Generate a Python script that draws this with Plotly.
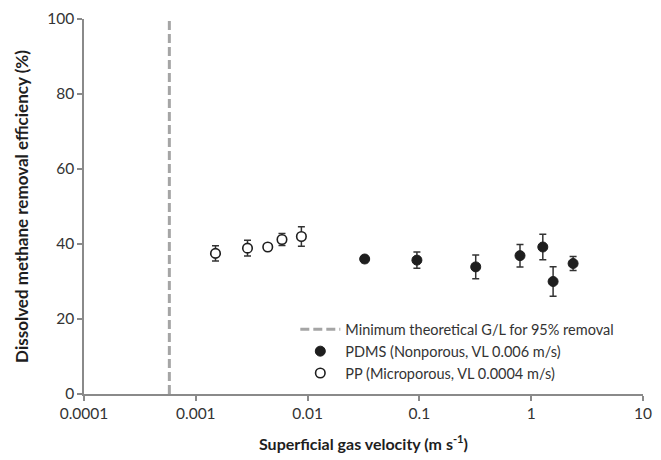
import plotly.graph_objects as go

# Minimum theoretical gas velocity for 95% removal (vertical reference line)
min_gl_velocity = 0.00058

# PDMS (nonporous) membrane
pdms_velocity = [0.0324, 0.095, 0.319, 0.794, 1.27, 1.57, 2.37]
pdms_removal = [36.0, 35.7, 33.9, 36.9, 39.2, 30.0, 34.8]
pdms_error = [0.9, 2.15, 3.15, 3.0, 3.4, 3.95, 1.85]

# PP (microporous) membrane
pp_velocity = [0.0015, 0.0029, 0.0044, 0.0059, 0.0088]
pp_removal = [37.5, 38.9, 39.2, 41.2, 42.0]
pp_error = [2.05, 2.1, 0.0, 1.6, 2.6]

x_tickvals = [0.0001, 0.001, 0.01, 0.1, 1, 10]
x_ticktext = ["0.0001", "0.001", "0.01", "0.1", "1", "10"]
y_tickvals = [0, 20, 40, 60, 80, 100]

FONT = "Lato"
TEXT = "#333333"
AXIS = "#8a8a8a"

fig = go.Figure()

fig.add_trace(go.Scatter(
    x=[min_gl_velocity, min_gl_velocity], y=[0, 100],
    mode="lines",
    line=dict(color="#a5a5a5", width=3, dash="9px,4px"),
    name="Minimum theoretical G/L for 95% removal",
))

fig.add_trace(go.Scatter(
    x=pdms_velocity, y=pdms_removal,
    mode="markers",
    marker=dict(symbol="circle", size=10, color="#1e1e1e",
                line=dict(color="#1e1e1e", width=1)),
    error_y=dict(type="data", array=pdms_error, visible=True,
                 color="#333333", thickness=1.5, width=3.5),
    name="PDMS (Nonporous, VL 0.006 m/s)",
))

fig.add_trace(go.Scatter(
    x=pp_velocity, y=pp_removal,
    mode="markers",
    marker=dict(symbol="circle", size=9.5, color="white",
                line=dict(color="#1e1e1e", width=1.6)),
    error_y=dict(type="data", array=pp_error, visible=True,
                 color="#333333", thickness=1.5, width=3.5),
    name="PP (Microporous, VL 0.0004 m/s)",
))

fig.update_layout(
    width=661, height=460,
    margin=dict(l=84, r=9, t=15, b=66),
    paper_bgcolor="white", plot_bgcolor="white",
    font=dict(family=FONT, size=15, color=TEXT),
    showlegend=True,
    legend=dict(
        x=0.378, y=0.215, xanchor="left", yanchor="top",
        bgcolor="rgba(0,0,0,0)",
        font=dict(family=FONT, size=14.5, color=TEXT),
        itemwidth=40, tracegroupgap=0,
    ),
)

fig.update_xaxes(
    type="log", range=[-4, 1],
    tickvals=x_tickvals, ticktext=x_ticktext,
    showgrid=False, zeroline=False,
    showline=True, linecolor=AXIS, linewidth=1.5,
    ticks="outside", ticklen=5, tickcolor=AXIS, tickwidth=1.5,
    tickfont=dict(family=FONT, size=15.5, color=TEXT),
    title=dict(text="<b>Superficial gas velocity (m s<sup>-1</sup>)</b>",
               font=dict(family=FONT, size=16, color="#1e1e1e"), standoff=17),
)

fig.update_yaxes(
    range=[0, 100],
    tickvals=y_tickvals,
    showgrid=False, zeroline=False,
    showline=True, linecolor=AXIS, linewidth=1.5,
    ticks="outside", ticklen=5, tickcolor=AXIS, tickwidth=1.5,
    tickfont=dict(family=FONT, size=15.5, color=TEXT),
    title=dict(text="<b>Dissolved methane removal efficiency (%)</b>",
               font=dict(family=FONT, size=17, color="#1e1e1e"), standoff=14),
)

fig.write_html("out.html")
